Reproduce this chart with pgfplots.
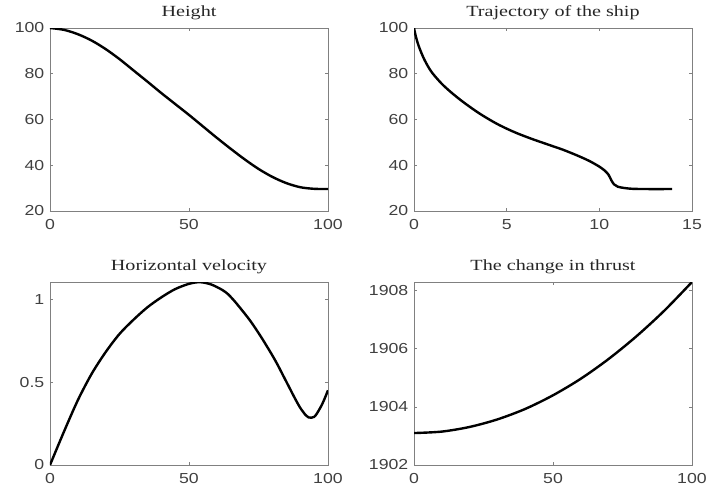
\documentclass[border=0pt]{standalone}
\usepackage{pgfplots}
\pgfplotsset{compat=1.18}
\usepackage{fontspec}
\setmainfont{Liberation Serif}
\setsansfont{Liberation Sans}
\newfontfamily\tickfont{Liberation Sans}[FakeStretch=1.22]
\newfontfamily\titlefont{Liberation Serif}[FakeStretch=1.3]
\definecolor{axgray}{gray}{0.5}
\definecolor{lblgray}{gray}{0.25}
\pgfplotsset{mstyle/.style={
  scale only axis, width=278pt, height=183pt, anchor=south west,
  axis line style={axgray, line width=0.8pt},
  tick style={axgray, line width=0.8pt}, major tick length=3pt,
  tick align=inside,
  ticklabel style={font=\tickfont\fontsize{14.5}{15}\selectfont, text=lblgray, inner sep=0pt},
  xticklabel style={yshift=-8pt},
  yticklabel style={xshift=-5.5pt},
  /pgf/number format/assume math mode=true,
  /pgf/number format/1000 sep={},
  scaled ticks=false,
  title style={font=\titlefont\fontsize{15.5}{16}\selectfont, text=black!85, at={(0.5,1)}, anchor=base, yshift=5.5pt, inner sep=0pt},
  every axis plot/.append style={line width=2.4pt, black, no markers},
}}
\begin{document}
\begin{tikzpicture}[x=1pt,y=1pt]
\path (0,0) rectangle (721,491);
% Height
\begin{axis}[mstyle, at={(50pt,280pt)}, title={Height},
  xmin=0, xmax=100, ymin=20, ymax=100, xtick={0,50,100}, ytick={20,40,60,80,100}]
\addplot[smooth] coordinates {(0,100) (5,99.2) (10,97.3) (15,94.5) (20,90.8) (25,86.4) (30,81.5) (35,76.6) (40,71.6) (45,66.8) (50,62.0) (55,57.0) (60,52.0) (65,47.2) (70,42.6) (75,38.4) (80,34.9) (85,32.2) (90,30.4) (95,29.7) (100,29.6)};
\end{axis}
% Trajectory
\begin{axis}[mstyle, at={(414pt,280pt)}, title={Trajectory of the ship},
  xmin=0, xmax=15, ymin=20, ymax=100, xtick={0,5,10,15}, ytick={20,40,60,80,100}]
\addplot[smooth, tension=0.5] coordinates {(0,100) (0.1,96.3) (0.25,92.2) (0.5,87.2) (0.75,83.3) (1,80.2) (1.5,75.6) (2,71.9) (2.5,68.6) (3,65.6) (3.5,62.8) (4,60.3) (4.5,58) (5,56) (5.5,54.2) (6,52.6) (6.5,51.1) (7,49.7) (7.5,48.3) (8,46.9) (8.5,45.3) (9,43.6) (9.5,41.7) (10,39.4) (10.3,37.6) (10.5,35.8) (10.65,33.4) (10.8,31.6) (11,30.6) (11.4,30) (11.8,29.7) (12.5,29.6) (13.93,29.6)};
\end{axis}
% Horizontal velocity
\begin{axis}[mstyle, at={(50pt,26pt)}, title={Horizontal velocity},
  xmin=0, xmax=100, ymin=0, ymax=1.103, xtick={0,50,100}, ytick={0,0.5,1}]
\addplot[smooth] coordinates {(0,0) (5,0.2) (10,0.39) (15,0.55) (20,0.68) (25,0.79) (30,0.875) (35,0.95) (40,1.01) (45,1.06) (50,1.092) (54,1.102) (58,1.088) (62,1.055) (64,1.03) (66,0.995) (68,0.955) (72,0.87) (76,0.77) (80,0.66) (82,0.60) (84,0.535) (86,0.47) (88,0.405) (90,0.345) (92,0.3) (93,0.287) (94,0.285) (95,0.29) (96,0.31) (98,0.37) (100,0.45)};
\end{axis}
% Thrust
\begin{axis}[mstyle, at={(414pt,26pt)}, title={The change in thrust},
  xmin=0, xmax=100, ymin=1902, ymax=1908.3, xtick={0,50,100}, ytick={1902,1904,1906,1908}]
\addplot[smooth] coordinates {(0,1903.1) (10,1903.15) (20,1903.31) (30,1903.57) (40,1903.93) (50,1904.4) (60,1904.97) (70,1905.65) (80,1906.43) (90,1907.31) (100,1908.3)};
\end{axis}
\end{tikzpicture}
\end{document}
